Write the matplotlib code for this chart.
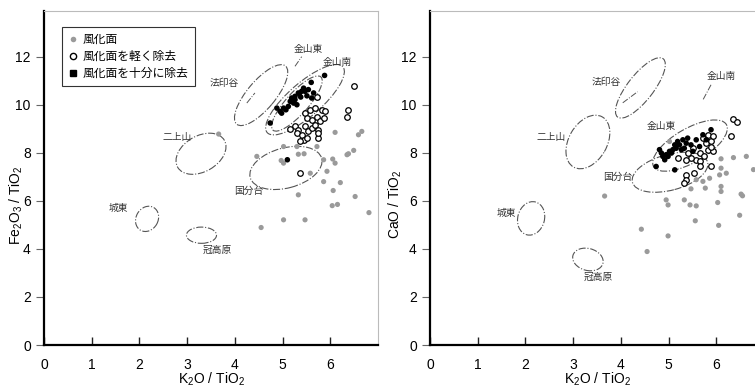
import numpy as np
import matplotlib
matplotlib.use("Agg")
import matplotlib.pyplot as plt
from matplotlib.patches import Ellipse
from matplotlib.transforms import Affine2D
from matplotlib.lines import Line2D

plt.rcParams['font.family'] = ['Liberation Sans', 'Noto Sans CJK JP', 'DejaVu Sans']
plt.rcParams['mathtext.default'] = 'regular'

# --- Fe2O3/TiO2 panel data (K2O/TiO2, Fe2O3/TiO2) ---
fe_weathered = [(3.66, 8.78), (4.46, 7.85), (4.97, 7.68), (5.02, 7.57), (5.02, 8.26), (5.30, 8.26),
                (5.45, 7.96), (5.58, 7.15), (6.10, 8.85), (6.59, 8.75), (6.66, 8.89), (6.38, 7.96),
                (6.49, 8.10), (5.86, 7.71), (6.05, 7.74), (6.10, 7.57), (5.93, 7.23), (6.21, 6.76),
                (5.86, 6.80), (6.06, 6.43), (5.33, 6.25), (6.52, 6.18), (6.04, 5.80), (6.15, 5.85),
                (6.81, 5.51), (5.02, 5.21), (5.47, 5.21), (4.55, 4.89), (5.72, 8.26), (5.33, 7.94),
                (6.35, 7.92)]
fe_light = [(5.47, 9.65), (5.58, 9.79), (5.68, 9.86), (5.82, 9.79), (5.89, 9.72), (5.51, 9.44),
            (5.61, 9.38), (5.72, 9.49), (5.79, 9.31), (5.86, 9.44), (5.26, 9.10), (5.33, 8.96),
            (5.47, 9.10), (5.54, 8.89), (5.61, 9.03), (5.68, 9.17), (5.75, 8.96), (5.16, 8.99),
            (5.30, 8.82), (5.40, 8.75), (5.44, 8.54), (5.37, 8.47), (5.51, 8.61), (5.75, 8.61),
            (5.75, 8.82), (6.49, 10.79), (6.38, 9.79), (6.35, 9.49), (5.73, 10.32), (5.37, 7.15)]
fe_full = [(5.88, 11.22), (5.60, 10.93), (5.44, 10.69), (5.33, 10.49), (5.47, 10.56), (5.38, 10.32),
           (5.26, 10.35), (5.16, 10.14), (5.23, 10.07), (5.12, 9.93), (5.07, 9.79), (4.98, 9.65),
           (4.88, 9.86), (4.74, 9.24), (5.26, 10.21), (5.40, 10.56), (5.51, 10.37), (5.61, 10.28),
           (5.30, 10.00), (5.19, 10.28), (5.02, 9.86), (4.95, 9.72), (5.54, 10.63), (5.65, 10.49),
           (5.35, 10.46), (5.10, 7.71)]
# source fields: centre x, centre y, long axis, short axis (x units), angle (deg, on screen)
fe_fields = [(4.55, 10.40, 1.59, 0.59, 50), (5.47, 10.21, 2.10, 0.70, 41), (5.30, 10.05, 1.50, 0.46, 48),
             (3.29, 7.96, 1.13, 0.75, 30), (5.07, 7.37, 1.55, 0.84, 15), (2.16, 5.25, 0.55, 0.46, 60),
             (3.30, 4.57, 0.63, 0.34, 0)]
fe_names = ['金山東', '金山南', '法印谷', '二上山', '国分台', '城東', '冠高原']
fe_name_xy = [(5.53, 12.33), (6.14, 11.80), (3.77, 10.90), (2.78, 8.67), (4.30, 6.40), (1.55, 5.70), (3.63, 3.96)]
fe_leaders = [((5.26, 11.60), (5.40, 12.00)), ((4.25, 10.07), (4.42, 10.49))]

# --- CaO/TiO2 panel data (K2O/TiO2, CaO/TiO2) ---
ca_weathered = [(3.66, 6.20), (4.95, 6.04), (4.99, 5.83), (5.33, 6.04), (5.45, 5.83), (5.58, 5.79),
                (6.03, 5.93), (6.10, 6.39), (6.52, 6.28), (6.55, 6.21), (5.56, 5.17), (6.05, 4.98),
                (6.49, 5.40), (4.43, 4.82), (4.99, 4.54), (4.55, 3.89), (5.47, 6.50), (5.77, 6.53),
                (5.86, 6.94), (6.07, 7.08), (6.21, 7.15), (6.10, 7.36), (6.10, 7.75), (6.36, 7.80),
                (6.63, 7.85), (6.78, 7.30), (5.58, 6.88), (5.72, 6.81), (6.10, 6.60), (5.02, 8.47)]
ca_light = [(5.72, 8.61), (5.79, 8.40), (5.89, 8.47), (5.82, 8.13), (5.93, 8.06), (5.65, 7.99),
            (5.75, 7.85), (5.58, 7.71), (5.47, 7.78), (5.65, 7.64), (5.40, 7.99), (5.51, 8.19),
            (5.82, 8.75), (5.93, 8.68), (5.37, 7.71), (5.19, 7.78), (5.89, 8.26), (6.35, 9.40),
            (6.43, 9.30), (6.31, 8.71), (5.88, 7.46), (5.54, 7.15), (5.37, 7.08), (5.36, 6.88),
            (5.33, 6.76), (5.65, 7.46)]
ca_full = [(5.89, 8.96), (5.72, 8.75), (5.58, 8.54), (5.40, 8.61), (5.37, 8.40), (5.23, 8.33),
           (5.16, 8.19), (5.09, 8.13), (5.02, 8.06), (4.95, 7.92), (4.85, 7.99), (4.81, 8.13),
           (4.92, 7.71), (4.74, 7.43), (5.13, 7.29), (4.99, 7.85), (5.27, 8.13), (5.47, 8.33),
           (5.33, 8.19), (5.65, 8.26), (5.79, 8.54), (5.19, 8.47), (5.06, 7.99), (4.88, 7.85),
           (5.51, 8.06), (5.13, 8.33), (5.30, 8.54)]
ca_fields = [(4.41, 10.70, 1.55, 0.54, 52), (3.31, 8.45, 1.21, 0.80, 60), (5.45, 8.30, 1.76, 0.71, 30),
             (5.03, 7.19, 1.63, 0.75, 15), (2.12, 5.27, 0.71, 0.56, 75), (3.31, 3.56, 0.65, 0.46, -15)]
ca_names = ['法印谷', '金山南', '金山東', '二上山', '国分台', '城東', '冠高原']
ca_name_xy = [(3.70, 10.96), (6.10, 11.20), (4.85, 9.10), (2.53, 8.67), (3.94, 7.00), (1.61, 5.50), (3.52, 2.83)]
ca_leaders = [((4.04, 10.08), (4.35, 10.54)), ((5.89, 10.83), (5.72, 10.20))]

legend_labels = ['風化面', '風化面を軽く除去', '風化面を十分に除去']

fig = plt.figure(figsize=(7.55, 3.87), dpi=100)
ax1 = fig.add_axes([0.0583, 0.1085, 0.4424, 0.863])
ax2 = fig.add_axes([0.5695, 0.1085, 0.4424, 0.863])

R = 24 / 47.7  # screen ratio of y unit to x unit


def draw(ax, weathered, light, full, fields, names, name_xy, leaders, ylabel, ylab_x):
    w = np.array(weathered)
    l = np.array(light)
    f = np.array(full)
    ax.scatter(w[:, 0], w[:, 1], s=14, color='#9a9a9a', edgecolors='none', zorder=3)
    ax.scatter(l[:, 0], l[:, 1], s=16, facecolors='white', edgecolors='black', linewidths=0.9, zorder=4)
    ax.scatter(f[:, 0], f[:, 1], s=16, color='black', edgecolors='none', zorder=5)

    tr = Affine2D().scale(1, 1 / R) + ax.transData
    for cx, cy, a, b, ang in fields:
        e = Ellipse((cx, cy * R), a, b, angle=ang, transform=tr, fill=False,
                    edgecolor='#555555', lw=0.8, linestyle='-.', zorder=2)
        ax.add_patch(e)
    for name, (tx, ty) in zip(names, name_xy):
        ax.text(tx, ty, name, fontsize=7, color='#333333', ha='center', va='center',
                family=['Noto Sans CJK JP', 'DejaVu Sans'])
    for (x0, y0), (x1, y1) in leaders:
        ax.plot([x0, x1], [y0, y1], color='#555555', lw=0.7, linestyle='-.')

    ax.set_xlim(0, 7)
    ax.set_ylim(0, 13.9)
    ax.set_xticks(range(0, 7))
    ax.set_yticks(range(0, 13, 2))
    ax.tick_params(axis='x', direction='in', length=6, width=1.0, labelsize=10, pad=9, color='#222222')
    ax.tick_params(axis='y', direction='out', length=6, width=0.8, labelsize=10, color='#666666')
    for side in ['left', 'bottom']:
        ax.spines[side].set_linewidth(1.6)
        ax.spines[side].set_color('black')
    for side in ['top', 'right']:
        ax.spines[side].set_linewidth(0.8)
        ax.spines[side].set_color('#bbbbbb')
    ax.set_xlabel('K$_2$O / TiO$_2$', fontsize=10, labelpad=-1)
    ax.set_ylabel(ylabel, fontsize=10)
    ax.yaxis.set_label_coords(ylab_x, 0.42)


draw(ax1, fe_weathered, fe_light, fe_full, fe_fields, fe_names, fe_name_xy, fe_leaders,
     'Fe$_2$O$_3$ / TiO$_2$', -0.058)
draw(ax2, ca_weathered, ca_light, ca_full, ca_fields, ca_names, ca_name_xy, ca_leaders,
     'CaO / TiO$_2$', -0.078)

handles = [
    Line2D([], [], marker='o', linestyle='none', markersize=4, color='#9a9a9a', markeredgecolor='none'),
    Line2D([], [], marker='o', linestyle='none', markersize=4.5, markerfacecolor='white', markeredgecolor='black'),
    Line2D([], [], marker='s', linestyle='none', markersize=4, color='black'),
]
leg = ax1.legend(handles, legend_labels, loc='upper left', bbox_to_anchor=(0.035, 0.97),
                 prop={'family': ['Noto Sans CJK JP', 'DejaVu Sans'], 'size': 8.5},
                 frameon=True, fancybox=False, edgecolor='black', handletextpad=0.3,
                 handlelength=1.0, borderpad=0.5, labelspacing=0.35)
leg.get_frame().set_linewidth(0.8)

fig.savefig('out.png', dpi=100)
